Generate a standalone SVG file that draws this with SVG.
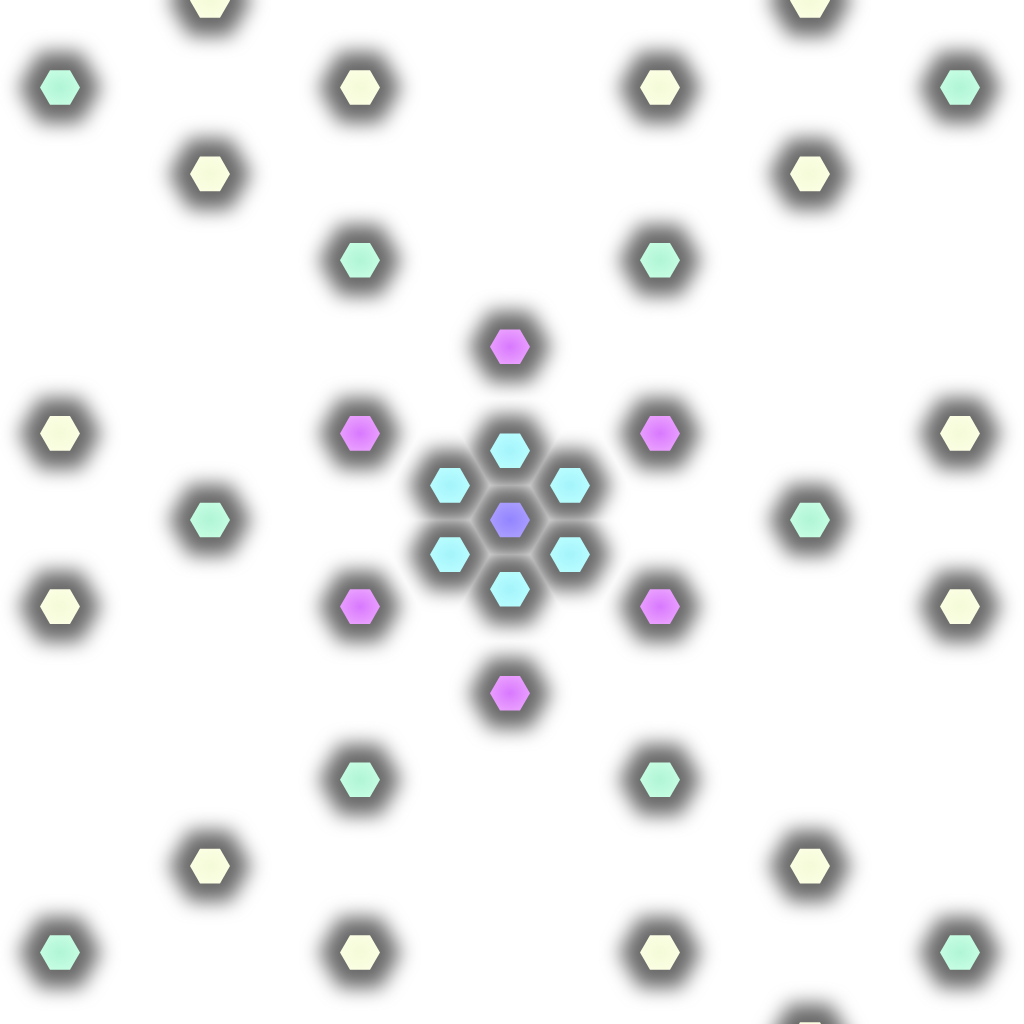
<svg xmlns="http://www.w3.org/2000/svg" xmlns:xlink="http://www.w3.org/1999/xlink" width="1024" height="1024" viewBox="0 0 1024 1024">
<defs>
<style>
.sh{fill:#6a6a6a;filter:url(#bl);mix-blend-mode:darken}
.p{fill:url(#gP)}.c{fill:url(#gC)}.m{fill:url(#gM)}.g{fill:url(#gG)}.y{fill:url(#gY)}
</style>
<filter id="bl" x="-80%" y="-80%" width="260%" height="260%" color-interpolation-filters="sRGB">
<feGaussianBlur stdDeviation="9.5" result="b"/>
<feFlood flood-color="#ffffff" result="w"/>
<feComposite in="b" in2="w" operator="over"/>
</filter>
<radialGradient id="gP"><stop offset="0" stop-color="#9284ff"/><stop offset="1" stop-color="#a99cff"/></radialGradient>
<radialGradient id="gC"><stop offset="0" stop-color="#a4f4fb"/><stop offset="1" stop-color="#b6fcff"/></radialGradient>
<radialGradient id="gM"><stop offset="0" stop-color="#d878fe"/><stop offset="1" stop-color="#e99dff"/></radialGradient>
<radialGradient id="gG"><stop offset="0" stop-color="#b0f4d6"/><stop offset="1" stop-color="#c4fde1"/></radialGradient>
<radialGradient id="gY"><stop offset="0" stop-color="#f4fbd8"/><stop offset="1" stop-color="#fbfee2"/></radialGradient>
<polygon id="sh" points="41,0 20.5,35.51 -20.5,35.51 -41,0 -20.5,-35.51 20.5,-35.51"/>
<polygon id="hx" points="20,0 10,17.32 -10,17.32 -20,0 -10,-17.32 10,-17.32"/>
</defs>
<rect width="1024" height="1024" fill="#ffffff"/>
<g id="connectors"/>
<g id="nodes">
<g id="y1" transform="translate(210,0.4)"><use href="#sh" class="sh"/><use href="#hx" class="y"/></g>
<g id="y2" transform="translate(810,0.4)"><use href="#sh" class="sh"/><use href="#hx" class="y"/></g>
<g id="g1" transform="translate(60,87.5)"><use href="#sh" class="sh"/><use href="#hx" class="g"/></g>
<g id="y3" transform="translate(360,87.5)"><use href="#sh" class="sh"/><use href="#hx" class="y"/></g>
<g id="y4" transform="translate(660,87.5)"><use href="#sh" class="sh"/><use href="#hx" class="y"/></g>
<g id="g2" transform="translate(960,87.5)"><use href="#sh" class="sh"/><use href="#hx" class="g"/></g>
<g id="y5" transform="translate(210,173.9)"><use href="#sh" class="sh"/><use href="#hx" class="y"/></g>
<g id="y6" transform="translate(810,173.9)"><use href="#sh" class="sh"/><use href="#hx" class="y"/></g>
<g id="g3" transform="translate(360,260.2)"><use href="#sh" class="sh"/><use href="#hx" class="g"/></g>
<g id="g4" transform="translate(660,260.2)"><use href="#sh" class="sh"/><use href="#hx" class="g"/></g>
<g id="m1" transform="translate(510,346.8)"><use href="#sh" class="sh"/><use href="#hx" class="m"/></g>
<g id="y7" transform="translate(60,433.4)"><use href="#sh" class="sh"/><use href="#hx" class="y"/></g>
<g id="m2" transform="translate(360,433.4)"><use href="#sh" class="sh"/><use href="#hx" class="m"/></g>
<g id="m3" transform="translate(660,433.4)"><use href="#sh" class="sh"/><use href="#hx" class="m"/></g>
<g id="y8" transform="translate(960,433.4)"><use href="#sh" class="sh"/><use href="#hx" class="y"/></g>
<g id="g5" transform="translate(210,520)"><use href="#sh" class="sh"/><use href="#hx" class="g"/></g>
<g id="g6" transform="translate(810,520)"><use href="#sh" class="sh"/><use href="#hx" class="g"/></g>
<g id="c1" transform="translate(510,450.7)"><use href="#sh" class="sh"/><use href="#hx" class="c"/></g>
<g id="c2" transform="translate(570,485.4)"><use href="#sh" class="sh"/><use href="#hx" class="c"/></g>
<g id="c3" transform="translate(570,554.6)"><use href="#sh" class="sh"/><use href="#hx" class="c"/></g>
<g id="c4" transform="translate(510,589.3)"><use href="#sh" class="sh"/><use href="#hx" class="c"/></g>
<g id="c5" transform="translate(450,554.6)"><use href="#sh" class="sh"/><use href="#hx" class="c"/></g>
<g id="c6" transform="translate(450,485.4)"><use href="#sh" class="sh"/><use href="#hx" class="c"/></g>
<g id="center" transform="translate(510,520)"><use href="#sh" class="sh"/><use href="#hx" class="p"/></g>
<g id="y9" transform="translate(60,606.6)"><use href="#sh" class="sh"/><use href="#hx" class="y"/></g>
<g id="m4" transform="translate(360,606.6)"><use href="#sh" class="sh"/><use href="#hx" class="m"/></g>
<g id="m5" transform="translate(660,606.6)"><use href="#sh" class="sh"/><use href="#hx" class="m"/></g>
<g id="y10" transform="translate(960,606.6)"><use href="#sh" class="sh"/><use href="#hx" class="y"/></g>
<g id="m6" transform="translate(510,693.2)"><use href="#sh" class="sh"/><use href="#hx" class="m"/></g>
<g id="g7" transform="translate(360,779.8)"><use href="#sh" class="sh"/><use href="#hx" class="g"/></g>
<g id="g8" transform="translate(660,779.8)"><use href="#sh" class="sh"/><use href="#hx" class="g"/></g>
<g id="y11" transform="translate(210,866.1)"><use href="#sh" class="sh"/><use href="#hx" class="y"/></g>
<g id="y12" transform="translate(810,866.1)"><use href="#sh" class="sh"/><use href="#hx" class="y"/></g>
<g id="g9" transform="translate(60,952.5)"><use href="#sh" class="sh"/><use href="#hx" class="g"/></g>
<g id="y13" transform="translate(360,952.5)"><use href="#sh" class="sh"/><use href="#hx" class="y"/></g>
<g id="y14" transform="translate(660,952.5)"><use href="#sh" class="sh"/><use href="#hx" class="y"/></g>
<g id="g10" transform="translate(960,952.5)"><use href="#sh" class="sh"/><use href="#hx" class="g"/></g>
<g id="y15" transform="translate(810,1039.6)"><use href="#sh" class="sh"/><use href="#hx" class="y"/></g>
</g>
</svg>
